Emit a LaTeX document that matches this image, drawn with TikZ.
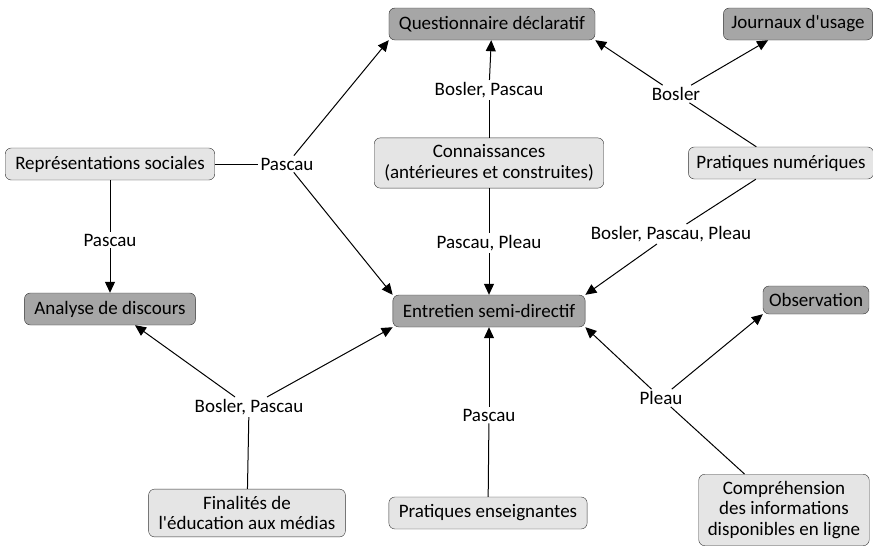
\documentclass[tikz,border=0pt]{standalone}
\usepackage{fontspec}
\setmainfont{Carlito}[Ligatures=TeXOff]
\usetikzlibrary{arrows.meta,calc}

\begin{document}
\begin{tikzpicture}[x=1pt,y=-1pt,auto,font=\fontsize{19}{20.5}\selectfont]
                \useasboundingbox (0,0) rectangle (873,552);
                \tikzset{method/.style={fill=black!35},
                         topic/.style={fill=black!10}}
                \begin{scope}[every node/.style={draw=black!80,rounded corners=6pt,align=center,inner xsep=10pt,inner ysep=7pt,minimum height=32pt}]
                    \node (QD) [method] at (492,24) {Questionnaire déclaratif};
                    \node (JU) [method,inner xsep=8pt] at (798,24) {Journaux d'usage};
                    \node (RS) [topic] at (110,164) {Représentations sociales};
                    \node (CO) [topic] at (489,163) {Connaissances\\(antérieures et construites)};
                    \node (PN) [topic,inner xsep=8pt] at (781,163) {Pratiques numériques};
                    \node (AD) [method] at (110,309) {Analyse de discours};
                    \node (ES) [method] at (489,311) {Entretien semi-directif};
                    \node (OB) [method,inner xsep=6pt,minimum height=28pt] at (816,300) {Observation};
                    \node (FE) [topic] at (247,513) {Finalités de\\l'éducation aux médias};
                    \node (PE) [topic] at (488,513) {Pratiques enseignantes};
                    \node (CI) [topic,inner xsep=9pt] at (784,510) {Compréhension\\des informations\\disponibles en ligne};
                \end{scope}
                \begin{scope}[every node/.style={fill=white,inner sep=2pt}]
                    \node (l1) at (287,164) {Pascau};
                    \node (l2) at (110,240) {Pascau};
                    \node (l3) at (489,90) {Bosler, Pascau};
                    \node (l4) at (489,243) {Pascau, Pleau};
                    \node (l5) at (676,94) {Bosler};
                    \node (l6) at (671,234) {Bosler, Pascau, Pleau};
                    \node (l7) at (249,407) {Bosler, Pascau};
                    \node (l8) at (489,415) {Pascau};
                    \node (l9) at (661,398) {Pleau};
                \end{scope}
                \begin{scope}[every edge/.style={draw=black,line width=1pt},>={Triangle[length=11pt,width=10pt]}]
                    \draw (RS) edge (l1);
                    \draw (l1) edge [->] (QD.south west);
                    \draw (l1) edge [->] (ES.north west);
                    \draw (RS) edge (l2);
                    \draw (l2) edge [->] (AD);
                    \draw (CO) edge (l3);
                    \draw (l3) edge [->] (QD);
                    \draw (CO) edge (l4);
                    \draw (l4) edge [->] (ES);
                    \draw (PN) edge (l5);
                    \draw (l5) edge [->] (QD.south east);
                    \draw (l5) edge [->] ($(JU.south west)!0.3!(JU.south east)$);
                    \draw (PN) edge (l6);
                    \draw (l6) edge [->] (ES.north east);
                    \draw (FE) edge (l7);
                    \draw (l7) edge [->] ($(AD.south)+(25,0)$);
                    \draw (l7) edge [->] (ES.south west);
                    \draw (PE) edge (l8);
                    \draw (l8) edge [->] (ES);
                    \draw (CI) edge (l9);
                    \draw (l9) edge [->] (ES.south east);
                    \draw (l9) edge [->] (OB.south west);
                \end{scope}
            \end{tikzpicture}
\end{document}
